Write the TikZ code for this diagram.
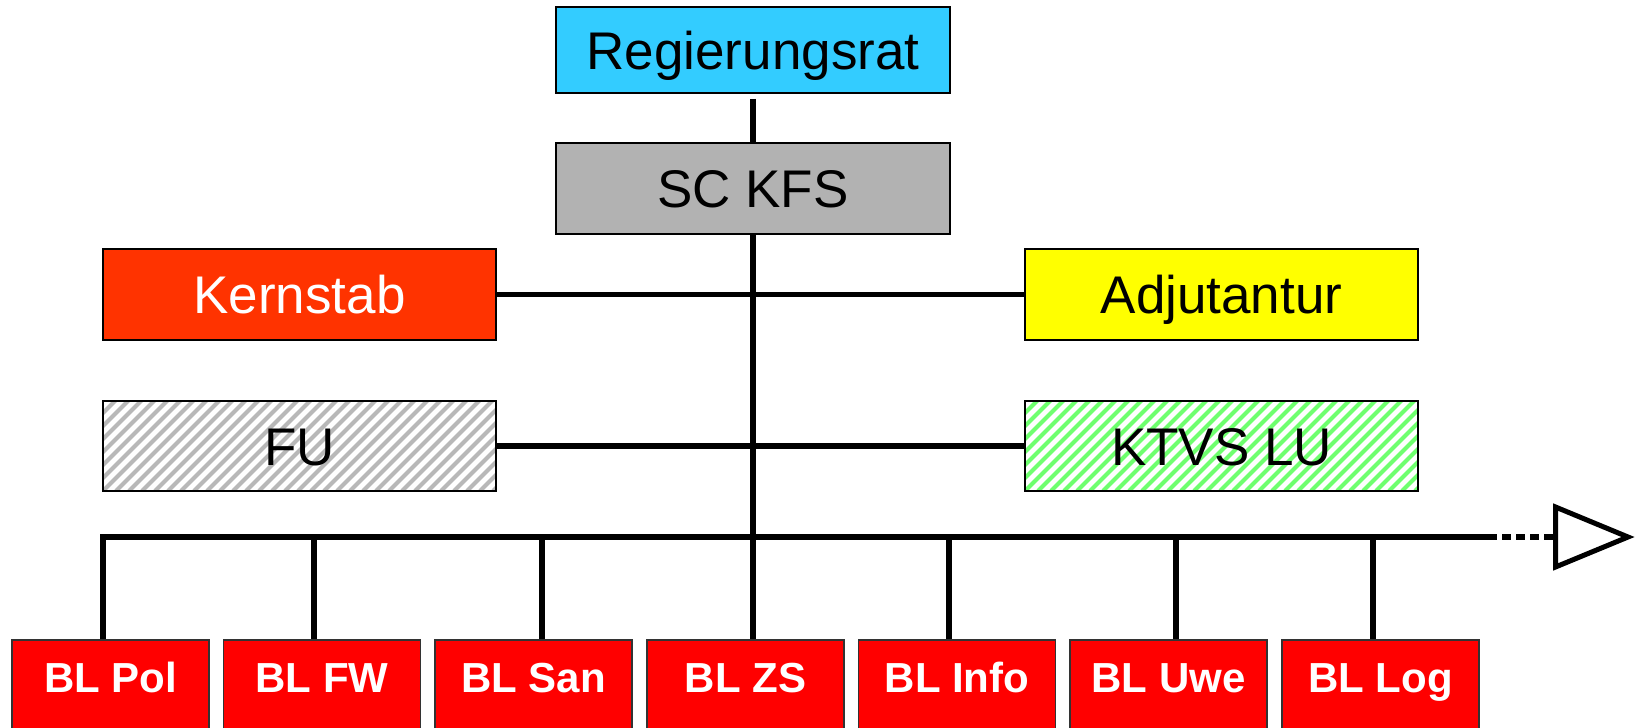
\documentclass[tikz,border=0pt]{standalone}
\usepackage{fontspec}
\setmainfont{Liberation Sans}
\begin{document}
\begin{tikzpicture}[x=1pt,y=-1pt,
  box/.style={draw=black, line width=1.8pt, rectangle, inner sep=0pt,
    font=\fontsize{53}{60}\selectfont, text height=38pt, text depth=0pt},
  topbox/.style={box, minimum width=394pt},
  sidebox/.style={box, minimum width=393pt, minimum height=91pt},
  blbox/.style={draw=black!80, line width=1.5pt, rectangle, inner sep=0pt,
    fill=blred, text=white, minimum width=197pt, minimum height=100pt,
    font=\fontsize{42}{50}\selectfont\bfseries, text height=31pt, text depth=26pt},
  conn/.style={line width=5.5pt, black},
  stripes/.style={path picture={
    \foreach \k in {-12,...,36}
      \draw[#1, line width=4.2pt]
        ([xshift=\k*13pt]path picture bounding box.south west) -- ++(110,-110);}}
]
\definecolor{regcyan}{RGB}{51,204,255}
\definecolor{scgray}{RGB}{178,178,178}
\definecolor{kernred}{RGB}{255,51,0}
\definecolor{adjyellow}{RGB}{255,255,0}
\definecolor{blred}{RGB}{255,0,0}
\definecolor{stripegray}{RGB}{184,184,184}
\definecolor{stripegreen}{RGB}{110,255,110}

\useasboundingbox (0,0) rectangle (1641,728);

% top boxes
\node[topbox, fill=regcyan, minimum height=86pt] (reg) at (753,50) {Regierungsrat};
\node[topbox, fill=scgray, minimum height=91pt] (sc) at (753,188.5) {SC KFS};

% side boxes
\node[sidebox, fill=kernred, text=white] (kern) at (299.5,294.5) {Kernstab};
\node[sidebox, fill=adjyellow] (adj) at (1221.5,294.5) {Adjutantur};
\node[sidebox, minimum height=90pt, fill=white, stripes=stripegray] (fu) at (299.5,446) {FU};
\node[sidebox, minimum height=90pt, fill=white, stripes=stripegreen] (ktvs) at (1221.5,446) {KTVS LU};

% bottom boxes
\node[blbox] (pol)  at (110.5,690) {BL Pol};
\node[blbox] (fw)   at (322,690)   {BL FW};
\node[blbox] (san)  at (533.5,690) {BL San};
\node[blbox] (zs)   at (745.5,690) {BL ZS};
\node[blbox] (info) at (957,690)   {BL Info};
\node[blbox] (uwe)  at (1168.5,690) {BL Uwe};
\node[blbox] (log)  at (1380.5,690) {BL Log};

% bus coordinates
\coordinate (busL) at (103,537);
\coordinate (busR) at (1497,537);
\coordinate (tri)  at (1553,537);
\coordinate (bfw)   at (314,537);
\coordinate (bsan)  at (542,537);
\coordinate (binfo) at (949,537);
\coordinate (buwe)  at (1176,537);
\coordinate (blog)  at (1373,537);

% connectors
\draw[conn, shorten <=5pt] (reg.south) -- (sc.north);
\draw[conn] (sc.south) -- (sc.south |- zs.north);
\draw[conn] (kern.east) -- (adj.west);
\draw[conn] (fu.east) -- (ktvs.west);
\draw[conn, line join=miter] (busL |- pol.north) -- (busL) -- (busR);
\draw[conn] (bfw) -- (bfw |- fw.north);
\draw[conn] (bsan) -- (bsan |- san.north);
\draw[conn] (binfo) -- (binfo |- info.north);
\draw[conn] (buwe) -- (buwe |- uwe.north);
\draw[conn] (blog) -- (blog |- log.north);
\draw[conn, dash pattern=on 9pt off 5pt, dash phase=9pt] (busR) -- (tri);

% open triangle
\draw[line width=5pt, line join=miter, fill=white]
  ([xshift=2.5pt,yshift=30pt]tri) -- ([xshift=75pt]tri) -- ([xshift=2.5pt,yshift=-30pt]tri) -- cycle;
\end{tikzpicture}
\end{document}
